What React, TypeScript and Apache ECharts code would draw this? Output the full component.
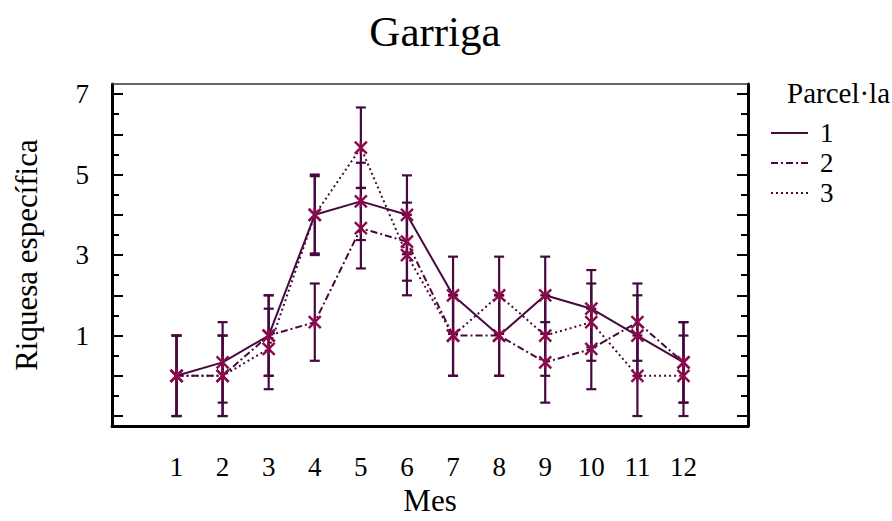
import React, { useEffect, useRef } from "react";
import * as echarts from "echarts";

const months = [1, 2, 3, 4, 5, 6, 7, 8, 9, 10, 11, 12];
const seriesNames = ["1", "2", "3"];
const parcel1 = [0, 0.333, 1, 4, 4.333, 4, 2, 1, 2, 1.667, 1, 0.333];
const parcel2 = [0, 0, 1, 1.333, 3.667, 3.333, 1, 1, 0.333, 0.667, 1.333, 0.333];
const parcel3 = [0, 0, 0.667, 4, 5.667, 3, 1, 2, 1, 1.333, 0, 0];
const err1 = [1, 1, 1, 0.96, 0.96, 0.98, 0.96, 1, 0.96, 0.96, 1, 1];
const err2 = [1, 1, 1, 0.96, 1, 0.97, 1, 1, 1, 1, 0.96, 1];
const err3 = [1, 1, 1, 1, 1, 1, 1, 0.96, 1, 0.96, 1, 1];
const yMajorTicks = [-1, 0, 1, 2, 3, 4, 5, 6, 7];
const yMinorTicks = [-0.5, 0.5, 1.5, 2.5, 3.5, 4.5, 5.5, 6.5];
const yLabels = [1, 3, 5, 7];

const LINE = "#46093f";
const MARK = "#8a0b4c";
const FONT = "Liberation Serif";
const dashTypes: any[] = ["solid", [7, 3, 2, 3], [2, 3]];

export default function App() {
  const ref = useRef<HTMLDivElement>(null);
  useEffect(() => {
    if (!ref.current) return;
    const chart = echarts.init(ref.current, null, { renderer: "svg" });
    const values = [parcel1, parcel2, parcel3];
    const errs = [err1, err2, err3];

    const errRender = (params: any, api: any) => {
      const x = api.value(0);
      const y = api.value(1);
      const e = api.value(2);
      const top = api.coord([x, y + e]);
      const bot = api.coord([x, y - e]);
      const hw = 5;
      const st = { stroke: LINE, lineWidth: 2.2 };
      return {
        type: "group",
        children: [
          { type: "line", shape: { x1: top[0], y1: top[1], x2: bot[0], y2: bot[1] }, style: st },
          { type: "line", shape: { x1: top[0] - hw, y1: top[1], x2: top[0] + hw, y2: top[1] }, style: st },
          { type: "line", shape: { x1: bot[0] - hw, y1: bot[1], x2: bot[0] + hw, y2: bot[1] }, style: st },
        ],
      };
    };
    const markRender = (params: any, api: any) => {
      const p = api.coord([api.value(0), api.value(1)]);
      const s = 6;
      const st = { stroke: MARK, lineWidth: 2.4 };
      return {
        type: "group",
        children: [
          { type: "line", shape: { x1: p[0] - s, y1: p[1] - s, x2: p[0] + s, y2: p[1] + s }, style: st },
          { type: "line", shape: { x1: p[0] - s, y1: p[1] + s, x2: p[0] + s, y2: p[1] - s }, style: st },
          { type: "line", shape: { x1: p[0], y1: p[1] - s, x2: p[0], y2: p[1] + s }, style: st },
        ],
      };
    };

    const series: any[] = [];
    values.forEach((vals, i) => {
      series.push({
        name: "err" + i,
        type: "custom",
        renderItem: errRender,
        data: months.map((m, k) => [m, vals[k], errs[i][k]]),
        z: 2,
        silent: true,
      });
    });
    values.forEach((vals, i) => {
      series.push({
        name: seriesNames[i],
        type: "line",
        data: months.map((m, k) => [m, vals[k]]),
        symbol: "none",
        lineStyle: { color: LINE, width: 2, type: dashTypes[i] },
        itemStyle: { color: LINE },
        z: 3,
      });
    });
    values.forEach((vals, i) => {
      series.push({
        name: "mk" + i,
        type: "custom",
        renderItem: markRender,
        data: months.map((m, k) => [m, vals[k]]),
        z: 4,
        silent: true,
      });
    });

    const yBase = {
      type: "value",
      min: -1.25,
      max: 7.25,
      splitLine: { show: false },
    };

    chart.setOption({
      animation: false,
      backgroundColor: "#ffffff",
      textStyle: { fontFamily: FONT },
      title: [
        {
          text: "Garriga",
          left: 430,
          textAlign: "center",
          top: 5,
          textStyle: { fontFamily: FONT, fontSize: 43, fontWeight: "normal", color: "#000" },
        },
        {
          text: "Parcel·la",
          left: 787,
          top: 78,
          padding: 0,
          textStyle: { fontFamily: FONT, fontSize: 29, fontWeight: "normal", color: "#000" },
        },
      ],
      legend: {
        data: seriesNames,
        orient: "vertical",
        left: 770,
        top: 118,
        padding: 0,
        itemWidth: 37,
        itemHeight: 14,
        itemGap: 0,
        itemStyle: { opacity: 0 },
        textStyle: { fontFamily: FONT, fontSize: 27, color: "#000", lineHeight: 30, padding: [0, 0, 0, 7] },
      },
      grid: { left: 112, right: 144, top: 84, bottom: 86 },
      xAxis: [
        {
          type: "value",
          min: -0.4,
          max: 13.4,
          position: "bottom",
          axisLine: { show: true, onZero: false, lineStyle: { color: "#000", width: 3 } },
          axisTick: { show: false },
          splitLine: { show: false },
          axisLabel: {
            customValues: months,
            fontFamily: FONT,
            fontSize: 27,
            color: "#000",
            margin: 27,
          },
          name: "Mes",
          nameLocation: "middle",
          nameGap: 55,
          nameTextStyle: { fontFamily: FONT, fontSize: 31, color: "#000" },
        },
        {
          type: "value",
          min: -0.4,
          max: 13.4,
          position: "top",
          axisLine: { show: true, onZero: false, lineStyle: { color: "#333", width: 1.5 } },
          axisTick: { show: false },
          axisLabel: { show: false },
          splitLine: { show: false },
        },
      ],
      yAxis: [
        {
          ...yBase,
          position: "left",
          axisLine: { show: true, onZero: false, lineStyle: { color: "#000", width: 3 } },
          axisTick: { show: true, inside: true, length: 11, customValues: yMajorTicks, lineStyle: { color: "#000", width: 2 } },
          axisLabel: {
            customValues: yLabels,
            fontFamily: FONT,
            fontSize: 27,
            color: "#000",
            margin: 23,
          },
          name: "Riquesa específica",
          nameLocation: "middle",
          nameGap: 70,
          nameTextStyle: { fontFamily: FONT, fontSize: 31, color: "#000" },
        },
        {
          ...yBase,
          position: "left",
          axisLine: { show: false, onZero: false },
          axisTick: { show: true, inside: true, length: 7, customValues: yMinorTicks, lineStyle: { color: "#000", width: 2 } },
          axisLabel: { show: false },
        },
        {
          ...yBase,
          position: "right",
          axisLine: { show: true, onZero: false, lineStyle: { color: "#000", width: 3 } },
          axisTick: { show: true, inside: true, length: 11, customValues: yMajorTicks, lineStyle: { color: "#000", width: 2 } },
          axisLabel: { show: false },
        },
        {
          ...yBase,
          position: "right",
          axisLine: { show: false, onZero: false },
          axisTick: { show: true, inside: true, length: 7, customValues: yMinorTicks, lineStyle: { color: "#000", width: 2 } },
          axisLabel: { show: false },
        },
      ],
      series,
    });
    return () => chart.dispose();
  }, []);
  return (
    <div
      ref={ref}
      style={{ position: "fixed", left: 0, top: 0, width: 892, height: 521, background: "#fff" }}
    />
  );
}
